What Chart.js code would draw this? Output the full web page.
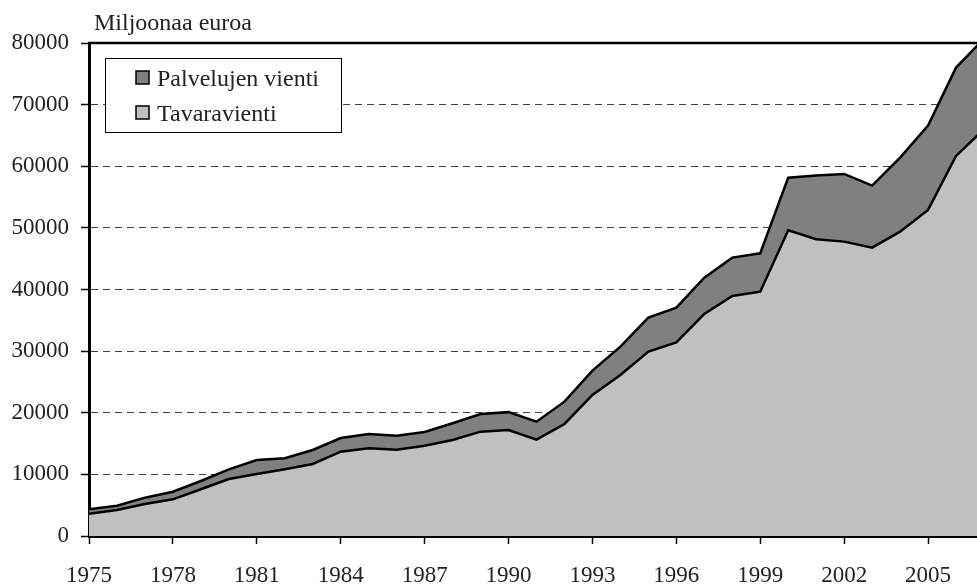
<!DOCTYPE html>
<html>
<head>
<meta charset="utf-8">
<script src="https://cdn.jsdelivr.net/npm/chart.js@4.4.1/dist/chart.umd.min.js"></script>
<style>
  html, body { margin: 0; padding: 0; background: #fff; overflow: hidden; }
  #wrap { width: 977px; height: 586px; overflow: hidden; position: relative; }
  canvas { display: block; }
</style>
</head>
<body>
<div id="wrap"><canvas id="c" width="1000" height="586"></canvas></div>
<script>
// Years (categories)
const years = [
  1975, 1976, 1977, 1978, 1979, 1980, 1981, 1982, 1983, 1984, 1985,
  1986, 1987, 1988, 1989, 1990, 1991, 1992, 1993, 1994, 1995, 1996,
  1997, 1998, 1999, 2000, 2001, 2002, 2003, 2004, 2005, 2006, 2007
];
// Tavaravienti (goods exports), million euros
const tavaravienti = [
  3600, 4220, 5190, 5950, 7580, 9250, 10060, 10820, 11690, 13680, 14230,
  14010, 14660, 15580, 16930, 17200, 15630, 18180, 22880, 26130, 29920, 31430,
  36030, 38950, 39650, 49600, 48150, 47770, 46790, 49390, 52910, 61670, 66000
];
// Palvelujen vienti (services exports), million euros
const palvelujenVienti = [
  730, 700, 1030, 1240, 1350, 1570, 2270, 1790, 2270, 2220, 2320,
  2270, 2220, 2710, 2870, 2900, 2920, 3620, 3950, 4590, 5510, 5630,
  5890, 6220, 6230, 8550, 10330, 10980, 10070, 12010, 13680, 14340, 14700
];
// Y tick settings
const yMin = 0, yMax = 80000, yStep = 10000;
const xLabelEvery = 3;
const yAxisTitle = 'Miljoonaa euroa';

const FONT = '"Liberation Serif", "DejaVu Serif", serif';
const TEXT = '#222222';

const overlay = {
  id: 'overlay',
  afterDatasetsDraw(chart) {
    const ctx = chart.ctx;
    const a = chart.chartArea;
    ctx.save();
    // top border
    ctx.strokeStyle = '#000';
    ctx.lineWidth = 2.5;
    ctx.beginPath();
    ctx.moveTo(a.left - 1, a.top);
    ctx.lineTo(a.right, a.top);
    ctx.stroke();
    // legend box
    const bx = a.left + 16, by = a.top + 15, bw = 236, bh = 74;
    ctx.fillStyle = '#fff';
    ctx.fillRect(bx, by, bw, bh);
    ctx.lineWidth = 1;
    ctx.strokeStyle = '#000';
    ctx.strokeRect(bx + 0.5, by + 0.5, bw, bh);
    const items = chart.data.datasets.slice().reverse();
    ctx.font = '24px ' + FONT;
    ctx.textBaseline = 'alphabetic';
    items.forEach((ds, i) => {
      const my = by + 13 + i * 35;
      ctx.fillStyle = ds.backgroundColor;
      ctx.fillRect(bx + 31, my, 13, 13);
      ctx.lineWidth = 1.5;
      ctx.strokeStyle = '#000';
      ctx.strokeRect(bx + 31, my, 13, 13);
      ctx.fillStyle = TEXT;
      ctx.fillText(ds.label, bx + 52, my + 15);
    });
    // axis title
    ctx.font = '24px ' + FONT;
    ctx.fillStyle = TEXT;
    ctx.fillText(yAxisTitle, a.left + 5, 30);
    ctx.restore();
  }
};

new Chart(document.getElementById('c'), {
  type: 'line',
  data: {
    labels: years,
    datasets: [
      {
        label: 'Tavaravienti',
        data: tavaravienti,
        backgroundColor: '#c0c0c0',
        borderColor: '#000',
        borderWidth: 2.5,
        fill: 'origin',
        pointRadius: 0,
        tension: 0
      },
      {
        label: 'Palvelujen vienti',
        data: palvelujenVienti,
        backgroundColor: '#808080',
        borderColor: '#000',
        borderWidth: 2.5,
        fill: '-1',
        pointRadius: 0,
        tension: 0
      }
    ]
  },
  options: {
    responsive: false,
    animation: false,
    devicePixelRatio: 1,
    layout: { padding: { top: 43, right: 16, left: 0, bottom: 0 } },
    plugins: {
      legend: { display: false },
      tooltip: { enabled: false },
      title: { display: false }
    },
    scales: {
      x: {
        type: 'category',
        offset: false,
        afterFit(s) { s.height = 50; },
        grid: {
          drawOnChartArea: false,
          drawTicks: true,
          tickLength: 8,
          tickColor: '#000',
          tickWidth: 1.5
        },
        border: { display: true, color: '#000', width: 3 },
        ticks: {
          autoSkip: false,
          maxRotation: 0,
          minRotation: 0,
          padding: 18,
          color: TEXT,
          font: { family: FONT, size: 23 },
          callback(value) {
            const y = Number(this.getLabelForValue(value));
            return (y - years[0]) % xLabelEvery === 0 ? String(y) : null;
          }
        }
      },
      y: {
        stacked: true,
        min: yMin,
        max: yMax,
        afterFit(s) { s.width = 89; },
        grid: {
          color: '#404040',
          lineWidth: 1,
          drawTicks: true,
          tickLength: 8,
          tickColor: '#000',
          tickWidth: 1.5,
          tickBorderDash: []
        },
        border: { display: true, color: '#000', width: 3, dash: [7, 5] },
        ticks: {
          stepSize: yStep,
          padding: 12,
          color: TEXT,
          font: { family: FONT, size: 23 },
          callback(v) { return String(v); }
        }
      }
    }
  },
  plugins: [overlay]
});
</script>
</body>
</html>
